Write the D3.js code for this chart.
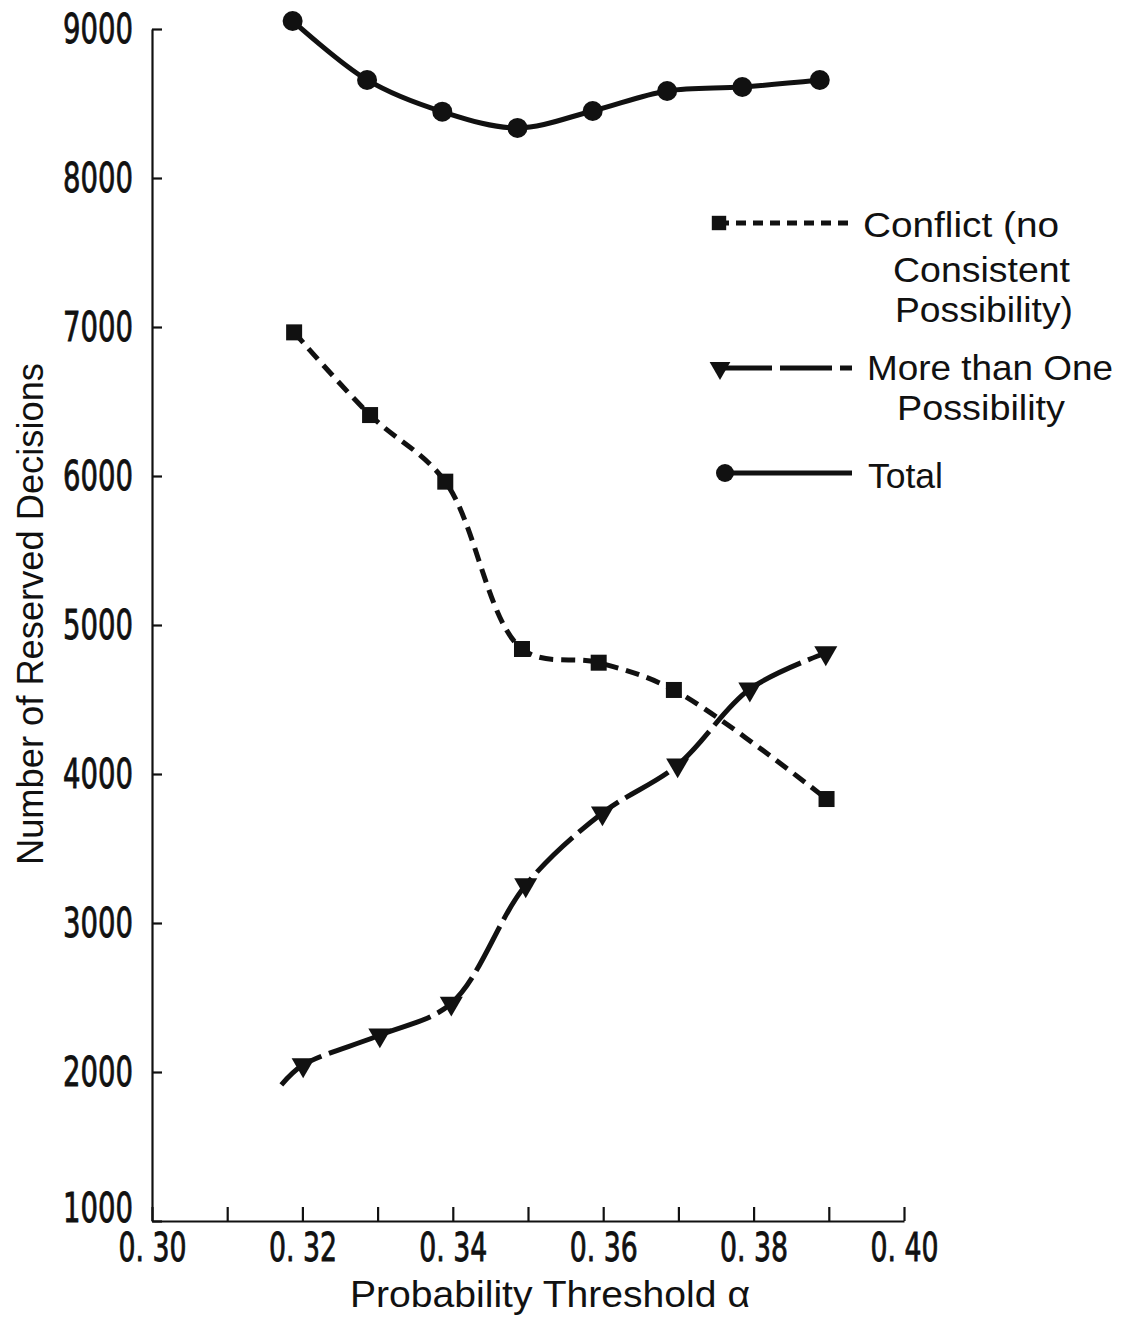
<!DOCTYPE html>
<html>
<head>
<meta charset="utf-8">
<script src="https://cdn.jsdelivr.net/npm/d3@7"></script>
<style>
  body { margin: 0; background: #fff; }
  svg { display: block; }
  .tick text { font-family: "DejaVu Sans", sans-serif; fill: #111; stroke: #111; stroke-width: 0.9px; }
  .title, .legend text { font-family: "Liberation Sans", "DejaVu Sans", sans-serif; fill: #111; }
</style>
</head>
<body>
<div id="container"></div>
<script>
/* DATA */
// Conflict (no consistent possibility) - squares, short dashes
const conflictX = [0.3189, 0.3290, 0.3390, 0.3492, 0.3594, 0.3694, 0.3897];
const conflictY = [6964, 6409, 5962, 4839, 4747, 4564, 3832];

// More than one possibility - triangles, long dashes (line starts a bit before first marker)
const moreLineStart = [0.3172, 1913];
const moreX = [0.3201, 0.3303, 0.3398, 0.3497, 0.3599, 0.3699, 0.3795, 0.3896];
const moreY = [2047, 2248, 2461, 3255, 3738, 4060, 4570, 4812];

// Total - circles, solid
const totalX = [0.3187, 0.3286, 0.3386, 0.3486, 0.3586, 0.3685, 0.3785, 0.3888];
const totalY = [9054, 8658, 8445, 8336, 8450, 8584, 8611, 8658];

const xTickValues = [0.30, 0.31, 0.32, 0.33, 0.34, 0.35, 0.36, 0.37, 0.38, 0.39, 0.40];
const xTickLabels = ["0. 30", "", "0. 32", "", "0. 34", "", "0. 36", "", "0. 38", "", "0. 40"];
const yTickValues = [1000, 2000, 3000, 4000, 5000, 6000, 7000, 8000, 9000];

const legendLabels = [
  ["Conflict (no", "Consistent", "Possibility)"],
  ["More than One", "Possibility"],
  ["Total"]
];

/* CONSTANTS */
const width = 1126,
      height = 1318,
      lineW = 5;

const svg = d3.select("#container")
  .append("svg")
  .attr("width", width)
  .attr("height", height);

// + SCALES
const xScale = d3.scaleLinear().domain([0.30, 0.40]).range([152, 904]);
const yScale = d3.scaleLinear().domain([1000, 9000]).range([1221, 29]);

// + AXES
const yAxis = d3.axisLeft(yScale)
  .tickValues(yTickValues)
  .tickFormat(d3.format("d"))
  .tickSizeInner(-10)
  .tickSizeOuter(0)
  .tickPadding(19);

const xAxis = d3.axisBottom(xScale)
  .tickValues(xTickValues)
  .tickFormat((d, i) => xTickLabels[i])
  .tickSizeInner(-14)
  .tickSizeOuter(0)
  .tickPadding(12);

const gy = svg.append("g")
  .attr("transform", `translate(${xScale(0.30)},0)`)
  .call(yAxis);
gy.selectAll("text")
  .attr("font-size", 41)
  .attr("textLength", 70)
  .attr("lengthAdjust", "spacingAndGlyphs");
// bottom label sits a little higher, clear of the x labels
gy.selectAll(".tick")
  .filter(d => d === 1000)
  .select("text")
  .attr("dy", "0.02em");

const gx = svg.append("g")
  .attr("transform", `translate(0,${yScale(1000)})`)
  .call(xAxis);
gx.selectAll("text")
  .attr("font-size", 39)
  .attr("textLength", d => xTickLabels[xTickValues.indexOf(d)] ? 68 : null)
  .attr("lengthAdjust", "spacingAndGlyphs");

svg.selectAll(".domain, .tick line")
  .attr("stroke", "#111")
  .attr("stroke-width", 2.2);

// axis titles
svg.append("text")
  .attr("class", "title")
  .attr("transform", "translate(43,614) rotate(-90)")
  .attr("text-anchor", "middle")
  .attr("font-size", 37)
  .attr("textLength", 502)
  .attr("lengthAdjust", "spacingAndGlyphs")
  .text("Number of Reserved Decisions");

svg.append("text")
  .attr("class", "title")
  .attr("x", 550)
  .attr("y", 1307)
  .attr("text-anchor", "middle")
  .attr("font-size", 37)
  .attr("textLength", 400)
  .attr("lengthAdjust", "spacingAndGlyphs")
  .text("Probability Threshold \u03b1");

/* LINES */
const line = d3.line()
  .x(d => xScale(d[0]))
  .y(d => yScale(d[1]))
  .curve(d3.curveCatmullRom.alpha(0.5));

const conflictPts = conflictX.map((d, i) => [d, conflictY[i]]);
const morePts = moreX.map((d, i) => [d, moreY[i]]);
const totalPts = totalX.map((d, i) => [d, totalY[i]]);

const series = [
  { pts: conflictPts, dash: "14,8", marker: "square" },
  { pts: [moreLineStart].concat(morePts), markerPts: morePts, dash: "50,8", marker: "triangle" },
  { pts: totalPts, dash: null, marker: "circle" }
];

const sqSize = 16;
const triPath = d3.symbol().type(d3.symbolTriangle).size(230)();

const drawMarker = (g, type, cx, cy, scale) => {
  const s = scale || 1;
  if (type === "square") {
    g.append("rect")
      .attr("x", cx - sqSize * s / 2)
      .attr("y", cy - sqSize * s / 2)
      .attr("width", sqSize * s)
      .attr("height", sqSize * s)
      .attr("fill", "#111");
  } else if (type === "triangle") {
    g.append("path")
      .attr("d", triPath)
      .attr("transform", `translate(${cx},${cy}) rotate(180) scale(${s})`)
      .attr("fill", "#111");
  } else {
    g.append("circle")
      .attr("cx", cx)
      .attr("cy", cy)
      .attr("r", 10 * s)
      .attr("fill", "#111");
  }
};

series.forEach(s => {
  svg.append("path")
    .datum(s.pts)
    .attr("d", line)
    .attr("fill", "none")
    .attr("stroke", "#111")
    .attr("stroke-width", lineW)
    .attr("stroke-dasharray", s.dash);

  const g = svg.append("g");
  (s.markerPts || s.pts).forEach(p => drawMarker(g, s.marker, xScale(p[0]), yScale(p[1])));
});

/* LEGEND */
const legend = svg.append("g").attr("class", "legend");
const legendRows = [
  { y: 223, marker: "square", dash: "10,7", mx: 719, lines: legendLabels[0],
    tx: [863, 893, 895], ty: [237, 282, 322], tl: [196, 177, 178] },
  { y: 368, marker: "triangle", dash: "52,8", mx: 720, lines: legendLabels[1],
    tx: [867, 897], ty: [380, 420], tl: [246, 168] },
  { y: 473, marker: "circle", dash: null, mx: 725, lines: legendLabels[2],
    tx: [868], ty: [488], tl: [75] }
];

legendRows.forEach(r => {
  legend.append("line")
    .attr("x1", r.mx)
    .attr("x2", 852)
    .attr("y1", r.y)
    .attr("y2", r.y)
    .attr("stroke", "#111")
    .attr("stroke-width", lineW)
    .attr("stroke-dasharray", r.dash);
  drawMarker(legend, r.marker, r.mx, r.y, 0.9);
  r.lines.forEach((t, i) => {
    legend.append("text")
      .attr("x", r.tx[i])
      .attr("y", r.ty[i])
      .attr("font-size", 35)
      .attr("textLength", r.tl[i])
      .attr("lengthAdjust", "spacingAndGlyphs")
      .text(t);
  });
});
</script>
</body>
</html>
